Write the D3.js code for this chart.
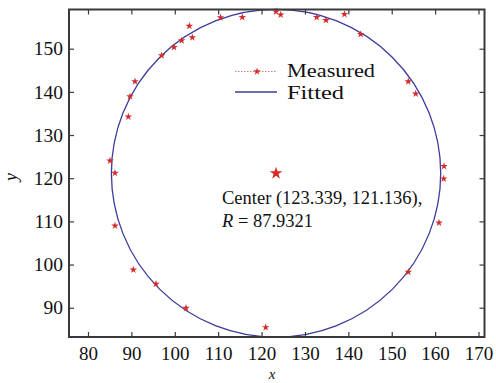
<!DOCTYPE html>
<html>
<head>
<meta charset="utf-8">
<script src="https://cdn.jsdelivr.net/npm/d3@7"></script>
<style>
  body { margin: 0; background: #fff; }
  svg text { font-family: "Liberation Serif", "Times New Roman", "DejaVu Serif", serif !important; fill: #111; }
</style>
</head>
<body>
<svg id="chart" width="496" height="383"></svg>
<script>
// measured points
const measuredX = [85.07, 86.22, 89.29, 89.68, 90.83, 96.99, 99.82, 101.59, 103.35, 104.04,
  110.54, 115.56, 123.33, 124.41, 132.71, 134.85, 139.11, 142.85, 153.82, 155.52,
  162.05, 161.98, 160.89, 153.82, 120.95, 102.59, 95.67, 90.44, 86.22];
const measuredY = [124.06, 121.2, 134.25, 138.93, 142.4, 148.43, 150.35, 151.9, 155.26, 152.6,
  157.23, 157.27, 158.57, 157.85, 157.3, 156.58, 157.97, 153.34, 142.4, 139.55,
  122.76, 119.9, 109.69, 98.27, 85.45, 89.94, 95.5, 98.81, 109.0];

// fitted circle
const centerX = 123.339;
const centerY = 121.136;
const fitRadius = 37.95;
const labelR = '87.9321';

const xTicks = [80, 90, 100, 110, 120, 130, 140, 150, 160, 170];
const yTicks = [90, 100, 110, 120, 130, 140, 150];

const svg = d3.select('#chart');
const margin = { top: 9.5, right: 11.5, bottom: 46, left: 69 };
const width = 496, height = 383;

const x = d3.scaleLinear().domain([75.62, 171.38]).range([margin.left, width - margin.right]);
const y = d3.scaleLinear().domain([83.22, 159.08]).range([height - margin.bottom, margin.top]);

const frameColor = '#3a3a3a';
const circleColor = '#3b3b9c';
const red = '#d42a2a';

// fitted circle
svg.append('ellipse')
  .attr('cx', x(centerX)).attr('cy', y(centerY))
  .attr('rx', x(centerX + fitRadius) - x(centerX))
  .attr('ry', y(centerY - fitRadius) - y(centerY))
  .attr('fill', 'none')
  .attr('stroke', circleColor)
  .attr('stroke-width', 1.3);

// measured points
const star = d3.symbol().type(d3.symbolStar).size(18);
svg.selectAll('.pt')
  .data(measuredX.map((d, i) => [d, measuredY[i]]))
  .enter().append('path')
  .attr('class', 'pt')
  .attr('transform', d => `translate(${x(d[0])},${y(d[1])})`)
  .attr('d', star)
  .attr('fill', red);

// center marker
svg.append('path')
  .attr('transform', `translate(${x(centerX)},${y(centerY)})`)
  .attr('d', d3.symbol().type(d3.symbolStar).size(50))
  .attr('fill', red);

// axes: ticks inward on all sides
const tickLen = 5;
const axisB = svg.append('g').attr('transform', `translate(0,${y.range()[0]})`)
  .call(d3.axisBottom(x).tickValues(xTicks).tickSizeInner(-tickLen).tickSizeOuter(0).tickPadding(10));
const axisT = svg.append('g').attr('transform', `translate(0,${y.range()[1]})`)
  .call(d3.axisTop(x).tickValues(xTicks).tickSizeInner(-tickLen).tickSizeOuter(0).tickFormat(''));
const axisL = svg.append('g').attr('transform', `translate(${x.range()[0]},0)`)
  .call(d3.axisLeft(y).tickValues(yTicks).tickSizeInner(-tickLen).tickSizeOuter(0).tickPadding(6));
const axisR = svg.append('g').attr('transform', `translate(${x.range()[1]},0)`)
  .call(d3.axisRight(y).tickValues(yTicks).tickSizeInner(-tickLen).tickSizeOuter(0).tickFormat(''));

[axisB, axisT, axisL, axisR].forEach(g => {
  g.attr('font-family', null);
  g.select('.domain').remove();
  g.selectAll('line').attr('stroke', frameColor).attr('stroke-width', 1.2);
  g.selectAll('text').attr('font-size', 19.5).attr('fill', '#111');
});
axisB.selectAll('text').attr('font-size', 19);

// frame
svg.append('rect')
  .attr('x', x.range()[0]).attr('y', y.range()[1])
  .attr('width', x.range()[1] - x.range()[0])
  .attr('height', y.range()[0] - y.range()[1])
  .attr('fill', 'none')
  .attr('stroke', frameColor)
  .attr('stroke-width', 2);

// axis labels
svg.append('text')
  .attr('x', 272).attr('y', 379)
  .attr('text-anchor', 'middle')
  .attr('font-size', 15).attr('font-style', 'italic')
  .text('x');
svg.append('text')
  .attr('transform', 'translate(17,177) rotate(-90)')
  .attr('text-anchor', 'middle')
  .attr('font-size', 18).attr('font-style', 'italic')
  .text('y');

// legend
const leg = svg.append('g');
leg.append('line')
  .attr('x1', 235).attr('x2', 277).attr('y1', 71.5).attr('y2', 71.5)
  .attr('stroke', '#e57a7a').attr('stroke-width', 1).attr('stroke-dasharray', '1.5,1.5');
leg.append('path')
  .attr('transform', 'translate(257,71.5)')
  .attr('d', star)
  .attr('fill', red);
leg.append('text')
  .attr('x', 287).attr('y', 77).attr('font-size', 19)
  .attr('textLength', 88).attr('lengthAdjust', 'spacingAndGlyphs')
  .text('Measured');
leg.append('line')
  .attr('x1', 235).attr('x2', 277).attr('y1', 92).attr('y2', 92)
  .attr('stroke', circleColor).attr('stroke-width', 1.3);
leg.append('text')
  .attr('x', 287).attr('y', 98.5).attr('font-size', 19)
  .attr('textLength', 57).attr('lengthAdjust', 'spacingAndGlyphs')
  .text('Fitted');

// annotation
svg.append('text')
  .attr('x', 222).attr('y', 204).attr('font-size', 18.5)
  .text(`Center (${centerX}, ${centerY}),`);
const rLine = svg.append('text')
  .attr('x', 222).attr('y', 227).attr('font-size', 18.5);
rLine.append('tspan').attr('font-style', 'italic').text('R');
rLine.append('tspan').text(' = ' + labelR);
</script>
</body>
</html>
